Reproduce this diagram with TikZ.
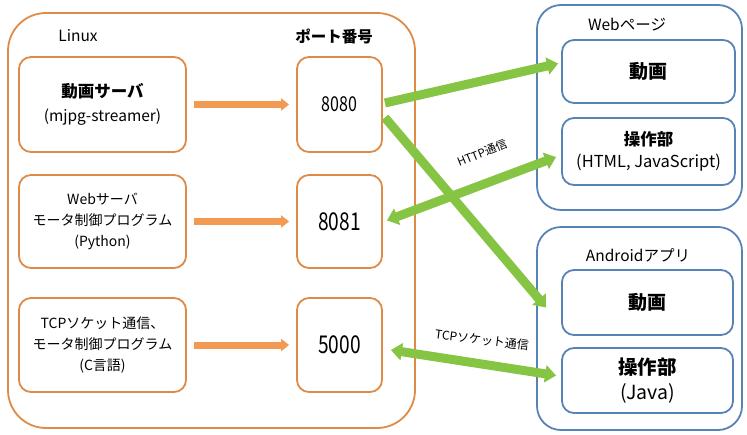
\documentclass[tikz,border=0pt]{standalone}
\usepackage{fontspec}
\setmainfont{Noto Sans CJK JP}
\usetikzlibrary{arrows.meta}
\definecolor{orng}{HTML}{DF8A45}
\definecolor{orarrow}{HTML}{F29A52}
\definecolor{grn}{HTML}{86C444}
\definecolor{blu}{HTML}{5783B5}
\newcommand{\narrow}{\addfontfeatures{FakeStretch=0.78}}
\tikzset{
  obox/.style={draw=orng, line width=1.8pt, rounded corners=12pt, minimum width=167pt, align=center, inner sep=0pt},
  pbox/.style={draw=orng, line width=1.8pt, rounded corners=12pt, minimum width=85pt, align=center, inner sep=0pt},
  bbox/.style={draw=blu, line width=1.8pt, rounded corners=12pt, minimum width=173pt, align=center, inner sep=0pt},
  outer/.style={rounded corners=#1, line width=1.8pt, inner sep=0pt},
  oarrow/.style={draw=orarrow, line width=7pt, -{Triangle[width=12pt,length=8pt]}, shorten >=0pt},
  garrow/.style={draw=grn, line width=9pt, -{Triangle[width=17pt,length=11pt]}},
  gdarrow/.style={draw=grn, line width=9pt, {Triangle[width=17pt,length=11pt]}-{Triangle[width=17pt,length=11pt]}},
  lbl/.style={font=\fontsize{15.5}{18}\selectfont, inner sep=0pt},
}
\begin{document}
\begin{tikzpicture}[x=1pt,y=-1pt]
\useasboundingbox (0,0) rectangle (747,434);
% outer boxes
\draw[orng, outer=38pt] (8,13) rectangle (415,428);
\draw[blu, outer=24pt] (537,5) rectangle (742,210);
\draw[blu, outer=24pt] (537,227) rectangle (742,430);
\node[lbl] (linux) at (78,36) {Linux};
\node[lbl] (port) at (334,36) {\textbf{ポート番号}};
\node[lbl] (webp) at (627,25) {Webページ};
\node[lbl] (andr) at (638,255) {Androidアプリ};
% left boxes
\node[obox, minimum height=95pt, font=\fontsize{15.5}{24}\selectfont] (s1) at (102.5,104.5) {{\fontsize{16.5}{24}\selectfont\textbf{動画サーバ}}\\(mjpg-streamer)};
\node[obox, minimum height=93pt, font=\fontsize{14}{21}\selectfont] (s2) at (102.5,221.5) {Webサーバ\\モータ制御プログラム\\(Python)};
\node[obox, minimum height=94pt, font=\fontsize{14}{21}\selectfont] (s3) at (102.5,345) {TCPソケット通信、\\モータ制御プログラム\\(C言語)};
% port boxes
\node[pbox, minimum height=95pt, font=\fontsize{20.5}{24}\selectfont\narrow] (p1) at (339.5,104.5) {8080};
\node[pbox, minimum height=93pt, font=\fontsize{24.5}{28}\selectfont\narrow] (p2) at (339.5,221.5) {8081};
\node[pbox, minimum height=94pt, font=\fontsize{24.5}{28}\selectfont\narrow] (p3) at (339.5,345) {5000};
% web inner
\node[bbox, minimum height=63pt, font=\fontsize{19}{22}\selectfont] (w1) at (648.5,71.5) {\textbf{動画}};
\node[bbox, minimum height=67pt, font=\fontsize{16.5}{22}\selectfont] (w2) at (648.5,151.5) {\textbf{操作部}\\(HTML, JavaScript)};
% android inner
\node[bbox, minimum width=171pt, minimum height=65pt, font=\fontsize{19}{22}\selectfont] (a1) at (647.5,302.5) {\textbf{動画}};
\node[bbox, minimum width=171pt, minimum height=65pt, font=\fontsize{19.5}{25}\selectfont] (a2) at (647.5,380.5) {\textbf{操作部}\\(Java)};
% orange arrows
\draw[oarrow] ([xshift=7pt]s1.east) -- ([xshift=-7pt]p1.west);
\draw[oarrow] ([xshift=7pt]s2.east) -- ([xshift=-7pt]p2.west);
\draw[oarrow] ([xshift=7pt]s3.east) -- ([xshift=-7pt]p3.west);
% green arrows
\draw[garrow] ([xshift=2pt,yshift=1.5pt]p1.east) -- ([xshift=-3pt,yshift=8pt]w1.west);
\draw[garrow] ([xshift=2pt,yshift=-13pt]p1.east) -- ([xshift=-15pt,yshift=-5pt]a1.west);
\draw[gdarrow] ([xshift=4pt,yshift=1pt]p2.east) -- ([xshift=-5pt,yshift=-5.5pt]w2.west);
\draw[gdarrow] ([xshift=8pt,yshift=-5pt]p3.east) -- ([xshift=-5pt,yshift=5pt]a2.west);
% connector labels
\node[font=\fontsize{11.5}{13}\selectfont, rotate=22, inner sep=0pt] (http) at (482,153) {HTTP通信};
\node[font=\fontsize{12}{13}\selectfont, rotate=-7, inner sep=0pt] (tcp) at (482,340) {TCPソケット通信};
\end{tikzpicture}
\end{document}
